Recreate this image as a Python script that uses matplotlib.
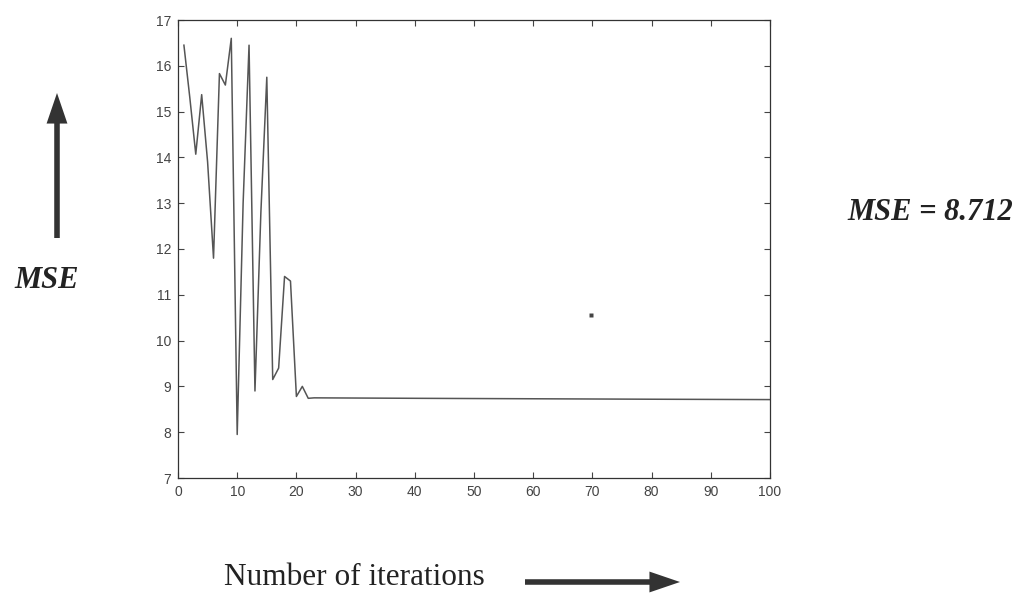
import matplotlib
matplotlib.use("Agg")
import matplotlib.pyplot as plt

# ---- data ----
iterations = [1, 2, 3, 4, 5, 6, 7, 8, 9, 10, 11, 12, 13, 14, 15, 16, 17, 18, 19, 20, 21, 22, 23, 40, 60, 80, 100]
mse = [16.45, 15.3, 14.07, 15.37, 13.9, 11.8, 15.83, 15.58, 16.6, 7.95, 13.0, 16.45, 8.9, 12.8, 15.75,
       9.15, 9.4, 11.4, 11.3, 8.78, 9.0, 8.74, 8.75, 8.74, 8.73, 8.72, 8.712]
speck_x = [69.7]
speck_y = [10.55]
x_ticks = [0, 10, 20, 30, 40, 50, 60, 70, 80, 90, 100]
y_ticks = [7, 8, 9, 10, 11, 12, 13, 14, 15, 16, 17]
final_label = "MSE = 8.712"
y_label = "MSE"
x_label = "Number of iterations"

W, H = 1026, 598
fig = plt.figure(figsize=(W / 100, H / 100), dpi=100)
fig.patch.set_facecolor("white")

ax = fig.add_axes([178 / W, 1 - 478 / H, 592 / W, 458 / H])
ax.plot(iterations, mse, color="#555555", lw=1.1)
ax.plot(speck_x, speck_y, "s", color="#444444", ms=2.2, mec="none")
ax.set_xlim(0, 100)
ax.set_ylim(7, 17)
ax.set_xticks(x_ticks)
ax.set_yticks(y_ticks)
ax.tick_params(direction="in", length=4, width=0.8, top=True, right=True,
               labelsize=10, colors="#444444", pad=5)
for lab in ax.get_xticklabels() + ax.get_yticklabels():
    lab.set_family(["Liberation Sans", "DejaVu Sans"])
for s in ax.spines.values():
    s.set_color("#333333")
    s.set_linewidth(0.9)

serif = ["Liberation Serif", "DejaVu Serif"]

# side annotations
fig.text(47 / W, 1 - 288 / H, y_label, ha="center", va="baseline", fontsize=22,
         fontweight="bold", fontstyle="italic", family=serif, color="#222222")
fig.text(930 / W, 1 - 220 / H, final_label, ha="center", va="baseline", fontsize=22,
         fontweight="bold", fontstyle="italic", family=serif, color="#222222")
fig.text(354 / W, 1 - 585 / H, x_label, ha="center", va="baseline", fontsize=22.5,
         family=serif, color="#222222")

arrow_style = "simple,head_length=1.1,head_width=0.75,tail_width=0.2"
fig_arrow = dict(arrowstyle=arrow_style, color="#333333", lw=0, mutation_scale=20,
                 shrinkA=0, shrinkB=0)
ax.annotate("", xy=(57, H - 93), xytext=(57, H - 238), xycoords="figure pixels",
            textcoords="figure pixels", arrowprops=fig_arrow, annotation_clip=False)
ax.annotate("", xy=(680, H - 582), xytext=(525, H - 582), xycoords="figure pixels",
            textcoords="figure pixels", arrowprops=fig_arrow, annotation_clip=False)

fig.savefig("out.png", dpi=100, facecolor="white")
